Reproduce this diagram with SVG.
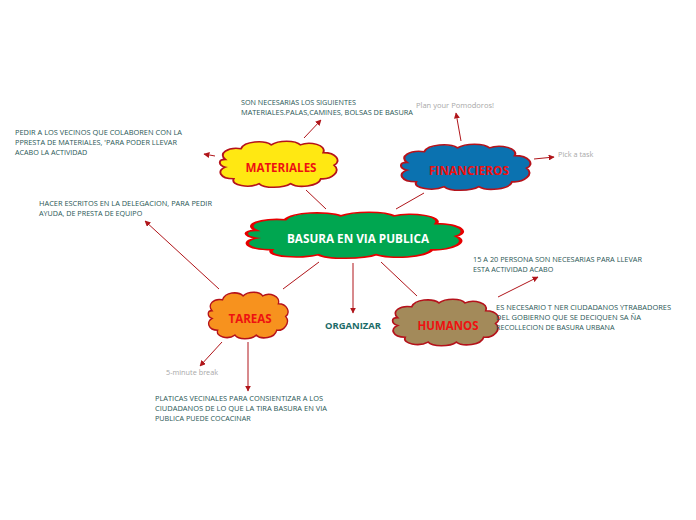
<svg xmlns="http://www.w3.org/2000/svg" xmlns:xlink="http://www.w3.org/1999/xlink" width="696" height="520" viewBox="0 0 696 520">
<style>
.cl{stroke-width:1.6;vector-effect:non-scaling-stroke}
.lbl{font-family:"Open Sans","Liberation Sans",sans-serif;font-weight:bold;font-size:12px;text-anchor:middle;fill:#ee1111}
.note{font-family:"Open Sans","Liberation Sans",sans-serif;font-size:7.2px;fill:#2a5756}
.grey{font-family:"Open Sans","Liberation Sans",sans-serif;font-size:7.3px;fill:#a8a8a8}
.ln{stroke:#b0151a;stroke-width:1;fill:none}
.ar{stroke:#b0151a;stroke-width:1;fill:none;marker-end:url(#ah)}
</style>
<defs>
<path id="cloud" d="M6,20 C0,14 8,7 19,9 C22,1 38,0 44,5 C50,0 64,0 68,5 C76,1 90,5 87,13 C98,13 102,22 96,26 C102,32 94,41 85,40 C83,48 66,50 60,45 C54,50 38,50 34,45 C26,50 10,47 13,40 C1,40 -1,31 6,28 C0,26 0,20 6,20 Z"/>
<marker id="ah" viewBox="0 0 10 10" refX="9" refY="5" markerWidth="6" markerHeight="6" orient="auto" markerUnits="userSpaceOnUse"><path d="M0,0 L10,5 L0,10 Z" fill="#b0151a"/></marker>
</defs>
<rect width="696" height="520" fill="#ffffff"/>
<g id="connectors">
<line class="ln" x1="326" y1="209" x2="306" y2="190"/>
<line class="ln" x1="396" y1="209" x2="424" y2="193"/>
<line class="ln" x1="319" y1="262" x2="283" y2="289"/>
<line class="ar" x1="353" y1="263" x2="353" y2="313"/>
<line class="ln" x1="381" y1="262" x2="417" y2="296"/>
<line class="ar" x1="304" y1="138" x2="321" y2="120"/>
<line class="ar" x1="215" y1="156" x2="204" y2="154"/>
<line class="ar" x1="461" y1="141" x2="456" y2="113"/>
<line class="ar" x1="534" y1="159" x2="554" y2="157"/>
<line class="ar" x1="219" y1="289" x2="145" y2="221"/>
<line class="ar" x1="222" y1="342" x2="200" y2="366"/>
<line class="ar" x1="248" y1="342" x2="248" y2="391"/>
<line class="ar" x1="498" y1="297" x2="538" y2="277"/>
</g>
<g id="center">
<use xlink:href="#cloud" class="cl" fill="#00a650" stroke="#e60000" transform="translate(243,211) scale(2.22,0.97)"/>
<text class="lbl" x="358" y="243" style="fill:#ffffff" textLength="142" lengthAdjust="spacingAndGlyphs">BASURA EN VIA PUBLICA</text>
</g>
<g id="materiales">
<use xlink:href="#cloud" class="cl" fill="#ffe812" stroke="#b5121b" transform="translate(218,140) scale(1.21,0.97)"/>
<text class="lbl" x="281" y="172" textLength="71" lengthAdjust="spacingAndGlyphs">MATERIALES</text>
</g>
<g id="financieros">
<use xlink:href="#cloud" class="cl" fill="#0b72b0" stroke="#b5121b" transform="translate(399,143) scale(1.33,0.97)"/>
<text class="lbl" x="469" y="175" textLength="80" lengthAdjust="spacingAndGlyphs">FINANCIEROS</text>
</g>
<g id="tareas">
<use xlink:href="#cloud" class="cl" fill="#f7921e" stroke="#b5121b" transform="translate(207,291) scale(0.82,0.98)"/>
<text class="lbl" x="250" y="323" textLength="43" lengthAdjust="spacingAndGlyphs">TAREAS</text>
</g>
<g id="humanos">
<use xlink:href="#cloud" class="cl" fill="#a38a5a" stroke="#b5121b" transform="translate(391,298) scale(1.09,0.98)"/>
<text class="lbl" x="448" y="330" textLength="61" lengthAdjust="spacingAndGlyphs">HUMANOS</text>
</g>
<g id="organizar">
<text x="353" y="329" style="font-family:'Open Sans','Liberation Sans',sans-serif;font-weight:bold;font-size:8.5px;fill:#1b6b68;text-anchor:middle" textLength="56" lengthAdjust="spacingAndGlyphs">ORGANIZAR</text>
</g>
<g id="note-materiales">
<text class="note" x="241" y="105">SON NECESARIAS LOS SIGUIENTES</text>
<text class="note" x="241" y="115" textLength="172" lengthAdjust="spacingAndGlyphs">MATERIALES.PALAS,CAMINES, BOLSAS DE BASURA</text>
</g>
<g id="note-pedir">
<text class="note" x="15" y="135" textLength="167" lengthAdjust="spacingAndGlyphs">PEDIR A LOS VECINOS QUE COLABOREN CON LA</text>
<text class="note" x="15" y="145" textLength="162" lengthAdjust="spacingAndGlyphs">PPRESTA DE MATERIALES, 'PARA PODER LLEVAR</text>
<text class="note" x="15" y="155">ACABO LA ACTIVIDAD</text>
</g>
<g id="note-pomodoros"><text class="grey" x="416" y="108" textLength="78" lengthAdjust="spacingAndGlyphs">Plan  your Pomodoros!</text></g>
<g id="note-pick"><text class="grey" x="558" y="157">Pick a task</text></g>
<g id="note-hacer">
<text class="note" x="39" y="206" textLength="173" lengthAdjust="spacingAndGlyphs">HACER ESCRITOS EN LA DELEGACION, PARA PEDIR</text>
<text class="note" x="39" y="216">AYUDA, DE PRESTA DE EQUIPO</text>
</g>
<g id="note-15">
<text class="note" x="473" y="262" textLength="169" lengthAdjust="spacingAndGlyphs">15 A 20 PERSONA SON NECESARIAS PARA LLEVAR</text>
<text class="note" x="473" y="272">ESTA ACTIVIDAD ACABO</text>
</g>
<g id="note-es">
<text class="note" x="496" y="310" textLength="175" lengthAdjust="spacingAndGlyphs">ES NECESARIO T NER CIUDADANOS YTRABADORES</text>
<text class="note" x="496" y="320" textLength="145" lengthAdjust="spacingAndGlyphs">DEL GOBIERNO  QUE SE DECIQUEN SA ÑA</text>
<text class="note" x="496" y="330">RECOLLECION DE BASURA URBANA</text>
</g>
<g id="note-break"><text class="grey" x="166" y="375">5-minute break</text></g>
<g id="note-platicas">
<text class="note" x="155" y="401" textLength="168" lengthAdjust="spacingAndGlyphs">PLATICAS VECINALES PARA CONSIENTIZAR A LOS</text>
<text class="note" x="155" y="411" textLength="172" lengthAdjust="spacingAndGlyphs">CIUDADANOS DE LO QUE LA TIRA BASURA EN VIA</text>
<text class="note" x="155" y="421">PUBLICA PUEDE COCACINAR</text>
</g>
</svg>
